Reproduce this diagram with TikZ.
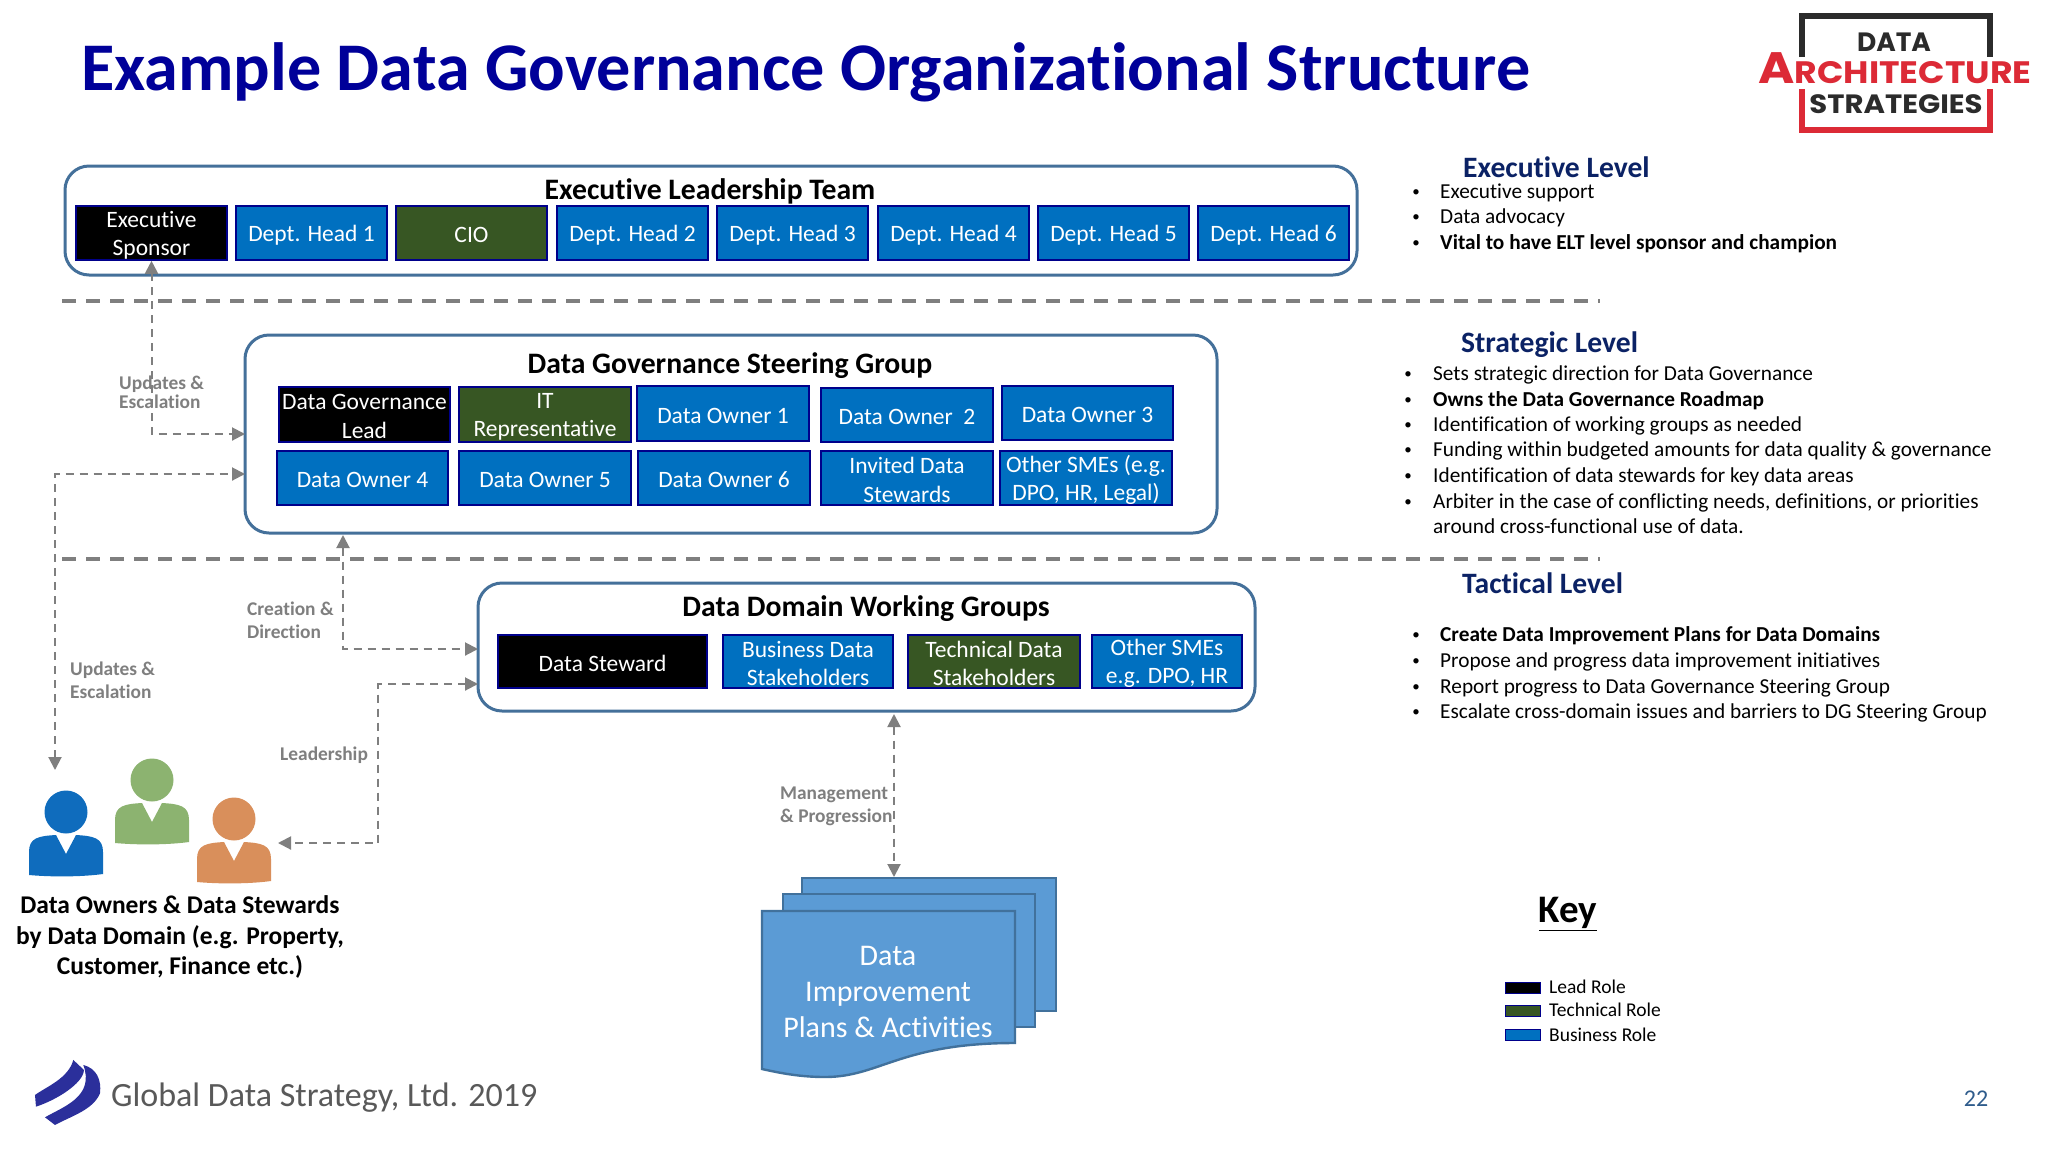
\documentclass[tikz,border=0pt]{standalone}
\usepackage{fontspec}
\usepackage{graphicx}
\setmainfont[Ligatures=NoCommon]{Carlito}
\newfontfamily\logofont{Poppins}
\usetikzlibrary{arrows.meta}
\definecolor{titleblue}{HTML}{000099}
\definecolor{headnavy}{HTML}{0B2265}
\definecolor{bizblue}{HTML}{0070C0}
\definecolor{techgreen}{HTML}{375623}
\definecolor{edgenavy}{HTML}{00008B}
\definecolor{outerblue}{HTML}{44709A}
\definecolor{docfill}{HTML}{5B9BD5}
\definecolor{docedge}{HTML}{41719C}
\definecolor{flowgray}{HTML}{7F7F7F}
\definecolor{labgray}{HTML}{7F7F7F}
\definecolor{foot}{HTML}{595959}
\definecolor{logored}{HTML}{DC2A36}
\definecolor{logodark}{HTML}{2B2B2B}
\definecolor{swoosh}{HTML}{2B2F9B}
\definecolor{persongreen}{HTML}{8CB370}
\definecolor{personorange}{HTML}{D98F5B}
\definecolor{personblue}{HTML}{0F6CBD}
\definecolor{pagenum}{HTML}{2F5C8C}
\newcommand{\fsz}[2]{\fontsize{#1}{#2}\selectfont}
% name, style, x1, y1, x2, y2, text
\newcommand{\rbox}[7]{\node[rolebox,#2,minimum width={#5pt-#3pt},minimum height={#6pt-#4pt}] (#1) at ({(#3+#5)/2},{(#4+#6)/2}) {};\node[roletext,yshift=-2pt] (#1t) at (#1.center) {#7};}
% name, x, x, y, text
\newcommand{\bul}[5]{\node[bulmark] (#1m) at (#2,#4) {•};\node[rtext] (#1) at (#3,#4) {#5};}
\newcommand{\person}[4]{%
  \fill[#4] (#2,#3) circle (21.5);
  \fill[#4] ({#2-37},{#3+63}) -- ({#2-37},{#3+40}) .. controls ({#2-37},{#3+26}) and ({#2-28},{#3+24}) .. ({#2-10},{#3+23})
    -- (#2,{#3+42}) -- ({#2+10},{#3+23}) .. controls ({#2+28},{#3+24}) and ({#2+37},{#3+26}) .. ({#2+37},{#3+40})
    -- ({#2+37},{#3+62}) .. controls ({#2+15},{#3+65}) and ({#2-15},{#3+65}) .. ({#2-37},{#3+63}) -- cycle;}
\tikzset{
  rolebox/.style={draw=edgenavy,line width=1.6pt,inner sep=0pt},
  roletext/.style={text=white,inner sep=0pt,align=center,font=\fsz{23.5}{28.3}},
  leadrole/.style={fill=black},
  techrole/.style={fill=techgreen},
  bizrole/.style={fill=bizblue},
  outerbox/.style={draw=outerblue,line width=3pt,rounded corners=24pt,fill=white},
  grouptitle/.style={inner sep=0pt,text=black,font=\fsz{29.7}{32}\bfseries},
  flow/.style={draw=flowgray,line width=2pt,dash pattern=on 8pt off 6pt},
  tipboth/.style={{Triangle[length=13pt,width=13pt]}-{Triangle[length=13pt,width=13pt]}},
  separator/.style={draw=flowgray,line width=3.4pt,dash pattern=on 14pt off 10pt},
  flowlabel/.style={inner sep=0pt,text=labgray,align=left,anchor=west,font=\fsz{19.4}{23}\bfseries},
  rtext/.style={inner sep=0pt,anchor=west,text=black,text height=14pt,text depth=4pt,font=\fsz{21.3}{25}},
  bulmark/.style={inner sep=0pt,text=black,font=\fsz{15}{20}},
  rhead/.style={inner sep=0pt,anchor=west,text=headnavy,font=\fsz{29.6}{32}\bfseries},
  dochead/.style={draw=docedge,line width=2.4pt,fill=docfill},
  keyswatch/.style={draw=edgenavy,line width=1.6pt,minimum width=35pt,minimum height=11pt,inner sep=0pt},
  keytext/.style={inner sep=0pt,anchor=west,text=black,font=\fsz{19.5}{22}},
}
\begin{document}
\begin{tikzpicture}[x=1pt,y=-1pt]
\useasboundingbox (0,0) rectangle (2048,1152);
\fill[white] (0,0) rectangle (2048,1152);

% Title
\node[inner sep=0pt,anchor=west,text=titleblue,font=\fsz{68.2}{70}\bfseries] (title) at (81,72) {Example Data Governance Organizational Structure};

% Logo
\draw[logodark,line width=6pt] (1802,57) -- (1802,16) -- (1990,16) -- (1990,57);
\draw[logored,line width=6pt] (1802,89) -- (1802,130) -- (1990,130) -- (1990,89);
\node[inner sep=0pt,text=logodark,font=\logofont\fsz{26.5}{28}\bfseries] (logodata) at (1894,42) {DATA};
\node[inner sep=0pt,anchor=base,text=logored,font=\logofont\fsz{31}{32}\bfseries] (logoarch) at (1895,83) {\scalebox{1.12}[1]{{\fsz{44}{44}A}RCHITECTURE}};
\node[inner sep=0pt,text=logodark,font=\logofont\fsz{26.5}{28}\bfseries] (logostrat) at (1896,104) {\scalebox{1.1}[1]{STRATEGIES}};

% Separators
\coordinate (sepa1) at (62,301); \coordinate (sepa2) at (1600,301);
\coordinate (sepb1) at (62,559); \coordinate (sepb2) at (1600,559);
\draw[separator] (sepa1) -- (sepa2);
\draw[separator] (sepb1) -- (sepb2);

% Outer groups
\path[outerbox] (65,166) rectangle (1357,275);
\node[grouptitle] (elt) at (710,191) {Executive Leadership Team};
\path[outerbox] (245,335) rectangle (1217,533);
\node[grouptitle] (dgsg) at (730,366) {Data Governance Steering Group};
\path[outerbox] (478,583) rectangle (1255,711);
\node[grouptitle] (dwg) at (866,609) {Data Domain Working Groups};

% Flow labels
\node[flowlabel,font=\fsz{19.4}{19}\bfseries] (lab1) at (119,392) {Updates \&\\Escalation};
\node[flowlabel] (lab2) at (247,620) {Creation \&\\Direction};
\node[flowlabel] (lab3) at (70,680) {Updates \&\\Escalation};
\node[flowlabel] (lab4) at (280,755) {Leadership};
\node[flowlabel] (lab5) at (780,806) {Management\\\& Progression};

% Exec row
\rbox{sponsor}{leadrole}{76}{206}{227}{260}{Executive\\Sponsor}
\rbox{dh1}{bizrole}{236}{206}{387}{260}{Dept. Head 1}
\rbox{cio}{techrole}{396}{206}{547}{260}{CIO}
\rbox{dh2}{bizrole}{557}{206}{708}{260}{Dept. Head 2}
\rbox{dh3}{bizrole}{717}{206}{868}{260}{Dept. Head 3}
\rbox{dh4}{bizrole}{878}{206}{1029}{260}{Dept. Head 4}
\rbox{dh5}{bizrole}{1038}{206}{1189}{260}{Dept. Head 5}
\rbox{dh6}{bizrole}{1198}{206}{1349}{260}{Dept. Head 6}

% Steering rows
\rbox{dgl}{leadrole}{279}{387}{450}{442}{Data Governance\\Lead}
\rbox{itr}{techrole}{459}{387}{631}{442}{IT\\Representative}
\rbox{do1}{bizrole}{637}{386}{809}{441}{Data Owner 1}
\rbox{do2}{bizrole}{821}{388}{993}{442}{Data Owner~ 2}
\rbox{do3}{bizrole}{1002}{386}{1173}{440}{Data Owner 3}
\rbox{do4}{bizrole}{277}{451}{448}{505}{Data Owner 4}
\rbox{do5}{bizrole}{459}{451}{631}{505}{Data Owner 5}
\rbox{do6}{bizrole}{638}{451}{810}{505}{Data Owner 6}
\rbox{ids}{bizrole}{821}{451}{993}{505}{Invited Data\\Stewards}
\rbox{sme}{bizrole}{1000}{451}{1172}{505}{Other SMEs (e.g.\\DPO, HR, Legal)}

% Working group row
\rbox{ds}{leadrole}{498}{635}{707}{688}{Data Steward}
\rbox{bds}{bizrole}{723}{635}{893}{688}{Business Data\\Stakeholders}
\rbox{tds}{techrole}{908}{635}{1080}{688}{Technical Data\\Stakeholders}
\rbox{osm}{bizrole}{1092}{635}{1242}{688}{Other SMEs\\e.g. DPO, HR}

% People
\person{blue}{66}{812}{personblue}
\person{green}{152}{780}{persongreen}
\person{orange}{234}{819}{personorange}
\node[inner sep=0pt,align=center,text=black,font=\fsz{25.5}{30.8}\bfseries] (people) at (180,937) {Data Owners \& Data Stewards\\by Data Domain (e.g. Property,\\Customer, Finance etc.)};
\coordinate (peopletop) at (55,770);
\coordinate (peopleright) at (278,843);

% Documents
\draw[dochead] (802,878) rectangle (1056,1011);
\draw[dochead] (783,894) rectangle (1035,1027);
\draw[dochead] (762,911) -- (1015,911) -- (1015,1043) .. controls (900,1043) and (880,1077) .. (825,1077) .. controls (800,1077) and (780,1073) .. (762,1069) -- cycle;
\node[inner sep=0pt,align=center,text=white,font=\fsz{30}{36}] (docs) at (888,992) {Data\\Improvement\\Plans \& Activities};

% Connector waypoints
\coordinate (steerA) at (245,434);
\coordinate (steerB) at (245,474);
\coordinate (steerS) at (343,535);
\coordinate (wgA) at (478,649);
\coordinate (wgB) at (478,684);
\coordinate (wgS) at (894,714);
\coordinate (leadbend) at (378,684);
\coordinate (mgmtend) at (894,877);

\draw[flow,tipboth] (sponsor.south) |- (steerA);
\draw[flow,tipboth] (peopletop) |- (steerB);
\draw[flow,tipboth] (steerS) |- (wgA);
\draw[flow,tipboth] (wgB) -- (leadbend) |- (peopleright);
\draw[flow,tipboth] (wgS) -- (mgmtend);

% Right panel
\node[rhead] (h1) at (1463,167) {Executive Level};
\bul{a1}{1416}{1440}{193}{Executive support}
\bul{a2}{1416}{1440}{218}{Data advocacy}
\bul{a3}{1416}{1440}{244}{\bfseries Vital to have ELT level sponsor and champion}
\node[rhead] (h2) at (1461,345) {Strategic Level};
\bul{b1}{1408}{1433}{375}{Sets strategic direction for Data Governance}
\bul{b2}{1408}{1433}{401}{\bfseries Owns the Data Governance Roadmap}
\bul{b3}{1408}{1433}{426}{Identification of working groups as needed}
\bul{b4}{1408}{1433}{451}{Funding within budgeted amounts for data quality \& governance}
\bul{b5}{1408}{1433}{477}{Identification of data stewards for key data areas}
\bul{b6}{1408}{1433}{503}{Arbiter in the case of conflicting needs, definitions, or priorities}
\node[rtext] (b7) at (1433,528) {around cross-functional use of data.};
\node[rhead] (h3) at (1462,583) {Tactical Level};
\bul{c1}{1416}{1440}{636}{\bfseries Create Data Improvement Plans for Data Domains}
\bul{c2}{1416}{1440}{662}{Propose and progress data improvement initiatives}
\bul{c3}{1416}{1440}{688}{Report progress to Data Governance Steering Group}
\bul{c4}{1416}{1440}{713}{Escalate cross-domain issues and barriers to DG Steering Group}

% Key
\node[inner sep=0pt,text=black,font=\fsz{39}{42}\bfseries] (keyt) at (1568,914) {\underline{Key}};
\node[keyswatch,fill=black] (k1) at (1523,988) {};
\node[keyswatch,fill=techgreen] (k2) at (1523,1011) {};
\node[keyswatch,fill=bizblue] (k3) at (1523,1035) {};
\node[keytext] (k1t) at (1549,987) {Lead Role};
\node[keytext] (k2t) at (1549,1010) {Technical Role};
\node[keytext] (k3t) at (1549,1035) {Business Role};

% Footer
\begin{scope}[shift={(0,740)},x=0.3333pt,y=-0.3333pt]
\fill[swoosh] (105,1065) .. controls (140,1040) and (205,1015) .. (220,960) -- (252,990) .. controls (250,1030) and (170,1080) .. (108,1100) -- cycle;
\fill[swoosh] (135,1132) .. controls (190,1100) and (285,1070) .. (250,975) .. controls (290,985) and (305,1020) .. (300,1060) .. controls (280,1110) and (210,1130) .. (165,1155) -- cycle;
\end{scope}
\node[inner sep=0pt,anchor=west,text=foot,font=\fsz{34}{36}] (foot) at (111,1098) {Global Data Strategy, Ltd. 2019};
\node[inner sep=0pt,text=pagenum,font=\fsz{24}{26}] (pg) at (1976,1099) {22};
\end{tikzpicture}
\end{document}
